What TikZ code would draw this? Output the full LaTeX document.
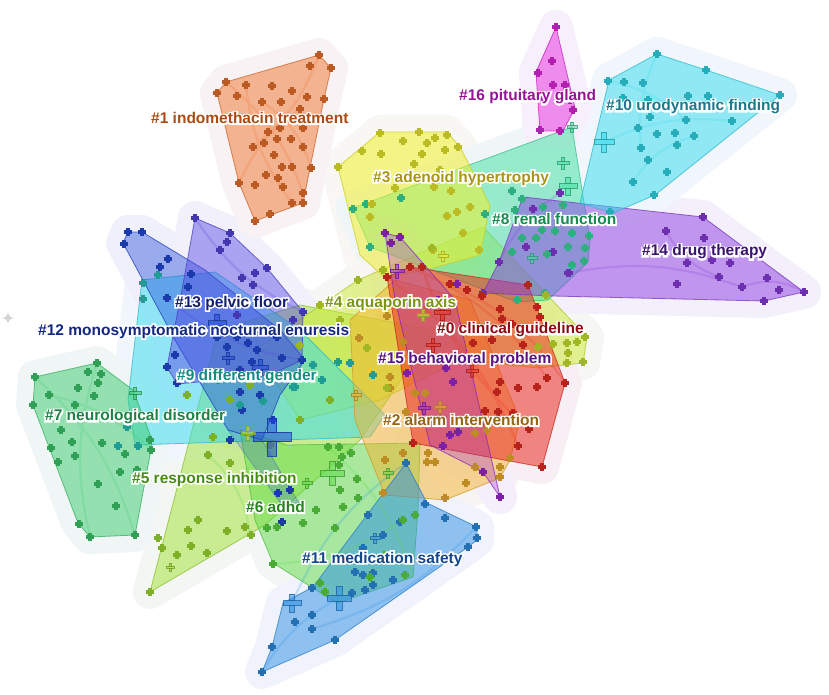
\documentclass[tikz,border=0pt]{standalone}
\usepackage{fontspec}
\newfontfamily\lblfam{Liberation Sans Bold}
\newfontfamily\halofam{Liberation Sans Bold}[FakeBold=20]
\usetikzlibrary{calc}
\definecolor{kRed}{RGB}{235,45,35}
\definecolor{kOrange}{RGB}{240,115,45}
\definecolor{kAmber}{RGB}{245,180,45}
\definecolor{kYellow}{RGB}{240,240,45}
\definecolor{kYG}{RGB}{205,235,45}
\definecolor{kLime}{RGB}{160,225,50}
\definecolor{kGreen}{RGB}{95,220,70}
\definecolor{kGreenB}{RGB}{60,205,110}
\definecolor{kAqua}{RGB}{60,225,160}
\definecolor{kTeal}{RGB}{40,200,190}
\definecolor{kCyan}{RGB}{50,220,238}
\definecolor{kSky}{RGB}{45,145,230}
\definecolor{kBlue}{RGB}{35,75,220}
\definecolor{kIndigo}{RGB}{85,70,225}
\definecolor{kPurple}{RGB}{140,60,225}
\definecolor{kViolet}{RGB}{160,40,210}
\definecolor{kMag}{RGB}{230,40,225}
\definecolor{kHalo}{RGB}{248,247,252}
\definecolor{tOr}{RGB}{170,75,20}
\definecolor{tMag}{RGB}{150,20,150}
\definecolor{tTeal}{RGB}{30,120,140}
\definecolor{tOlive}{RGB}{170,150,20}
\definecolor{tGreenE}{RGB}{20,140,80}
\definecolor{tPurp}{RGB}{60,20,110}
\definecolor{tNavyB}{RGB}{20,30,110}
\definecolor{tOliveG}{RGB}{120,150,20}
\definecolor{tNavy}{RGB}{20,40,130}
\definecolor{tRed}{RGB}{140,10,20}
\definecolor{tViol}{RGB}{90,20,130}
\definecolor{tTealN}{RGB}{20,140,130}
\definecolor{tGreenS}{RGB}{30,130,70}
\definecolor{tAmber}{RGB}{150,100,20}
\definecolor{tLime}{RGB}{70,140,20}
\definecolor{tGreenX}{RGB}{40,130,30}
\definecolor{tBlue}{RGB}{20,70,140}
\tikzset{
  halo/.style={draw=#1!4!kHalo, fill=#1!4!kHalo, line width=34pt, line join=round},
  poly/.style={fill=#1, fill opacity=0.5, draw=#1!85!black, draw opacity=0.75, line width=0.8pt, line join=round},
  mk/.style={only marks, mark=+, mark size=3.6, line width=3.4pt, draw=#1!78!black, mark options={solid, line width=3.4pt, draw=#1!78!black}},
  arcl/.style={draw=#1, draw opacity=0.22, line width=2.2pt},
  hubst/.style={fill=#1, fill opacity=0.55, draw=#1!70!black, draw opacity=0.8, line width=0.6pt},
  lbl/.style={anchor=west, inner sep=0pt, font=\lblfam\fontsize{15.5}{18}\selectfont}
}
\newcommand\clab[4]{%
  \node[lbl,text=#3] (#1) at (#2) {\rlap{\halofam\fontsize{15.5}{18}\selectfont\color{white}#4}#4};
}
\newcommand\hubmark[4]{%
  \begin{scope}[shift={(#2,#3)}, scale=#4]
    \path[hubst=#1] (-1,-0.25) rectangle (1,0.25);
    \path[hubst=#1] (-0.25,-1) rectangle (0.25,-0.25);
    \path[hubst=#1] (-0.25,0.25) rectangle (0.25,1);
  \end{scope}
}
\def\ppA{(217,93)--(226,82)--(319,55)--(331,68)--(324,99)--(310,168)--(303,203)--(255,221)--(239,183)--cycle}
\def\ppP{(556,27)--(575,108)--(563,131)--(540,131)--(536,72)--cycle}
\def\ppJ{(609,80)--(657,54)--(706,70)--(780,95)--(655,195)--(613,213)--(580,203)--cycle}
\def\ppN{(523,197)--(703,217)--(804,292)--(764,301)--(553,296)--(483,293)--(499,262)--cycle}
\def\ppH{(353,208)--(572,127)--(590,240)--(588,262)--(548,300)--(517,302)--(370,247)--cycle}
\def\ppC{(338,167)--(380,132)--(447,132)--(460,147)--(490,205)--(480,255)--(433,268)--(385,278)--(360,255)--cycle}
\def\ppD{(358,280)--(432,248)--(483,227)--(587,337)--(583,363)--(538,368)--(460,360)--(380,400)--(300,420)--(255,350)--cycle}
\def\ppE{(150,592)--(218,330)--(300,305)--(435,330)--(360,440)--(265,525)--cycle}
\def\ppL{(142,280)--(215,272)--(300,330)--(385,415)--(370,437)--(135,445)--(128,400)--cycle}
\def\ppG{(35,377)--(97,363)--(133,390)--(152,440)--(150,455)--(135,535)--(90,537)--(78,523)--(33,405)--cycle}
\def\ppF{(240,430)--(287,445)--(420,443)--(418,510)--(413,577)--(337,603)--(273,563)--(255,520)--cycle}
\def\ppM{(123,243)--(128,232)--(142,232)--(205,270)--(280,330)--(305,360)--(280,395)--(262,440)--(228,430)--(175,340)--cycle}
\def\ppMb{(228,430)--(262,440)--(300,505)--(284,508)--cycle}
\def\ppO{(195,218)--(230,233)--(267,268)--(303,312)--(302,360)--(270,375)--(177,384)--(167,367)--(182,290)--cycle}
\def\ppB{(350,320)--(395,280)--(470,300)--(520,420)--(510,460)--(500,478)--(445,500)--(385,495)--(355,420)--cycle}
\def\ppK{(387,277)--(410,267)--(528,285)--(565,383)--(542,467)--(413,443)--cycle}
\def\ppV{(385,233)--(400,237)--(455,300)--(500,497)--(483,472)--(430,445)--(395,300)--cycle}
\def\ppI{(406,463)--(427,503)--(477,527)--(477,540)--(468,547)--(335,640)--(262,672)--(272,647)--(283,603)--(313,587)--cycle}
\begin{document}
\begin{tikzpicture}[x=1pt,y=-1pt]
\fill[white] (0,0) rectangle (829,695);
\useasboundingbox (0,0) rectangle (829,695);
% halos
\path[halo=kLime] \ppE; \path[halo=kYG] \ppD; \path[halo=kYellow] \ppC;
\path[halo=kAqua] \ppH; \path[halo=kCyan] \ppL; \path[halo=kGreenB] \ppG;
\path[halo=kGreen] \ppF; \path[halo=kBlue] \ppM; \path[halo=kIndigo] \ppO;
\path[halo=kAmber] \ppB; \path[halo=kRed] \ppK; \path[halo=kViolet] \ppV;
\path[halo=kSky] \ppI; \path[halo=kPurple] \ppN; \path[halo=kCyan] \ppJ;
\path[halo=kMag] \ppP; \path[halo=kOrange] \ppA;
% polygons
\path[poly=kLime] \ppE;
\path[poly=kYG] \ppD;
\path[poly=kAqua] \ppH;
\path[poly=kYellow, fill opacity=0.55] \ppC;
\path[poly=kCyan] \ppL;
\path[poly=kGreenB] \ppG;
\path[poly=kGreen] \ppF;
\path[poly=kBlue, fill opacity=0.42] \ppM;
\path[poly=kBlue, fill opacity=0.22, draw opacity=0.3] \ppMb;
\path[poly=kIndigo, fill opacity=0.45] \ppO;
\path[poly=kAmber] \ppB;
\path[poly=kRed, fill opacity=0.55] \ppK;
\path[poly=kViolet, fill opacity=0.3] \ppV;
\path[poly=kSky] \ppI;
\path[poly=kPurple] \ppN;
\path[poly=kCyan] \ppJ;
\path[poly=kMag] \ppP;
\path[poly=kOrange] \ppA;
% faint internal links
\draw[arcl=kOrange] (226,82) to[bend left=15] (303,193) (246,85) to[bend right=15] (292,203) (319,55) to[bend left=15] (253,147) (262,102) to[bend left=20] (311,168) (239,183) to[bend left=15] (300,109);
\draw[arcl=kCyan] (608,81) to[bend left=15] (686,120) (657,54) to[bend right=15] (641,148) (604,142) to[bend left=15] (732,121) (633,182) to[bend left=20] (694,136);
\draw[arcl=kPurple] (568,273) to[bend left=15] (742,287) (666,231) to[bend right=20] (719,277) (742,287) to[bend left=25] (804,292) (499,262) to[bend left=15] (560,193);
\draw[arcl=kRed] (387,277) to[bend left=15] (518,446) (410,267) to[bend left=15] (547,378) (422,267) to[bend right=15] (529,429) (450,284) to[bend left=15] (565,383);
\draw[arcl=kGreenB] (35,377) to[bend left=15] (135,535) (97,363) to[bend right=15] (90,537) (49,395) to[bend left=15] (151,450);
\draw[arcl=kSky] (262,672) to[bend left=15] (339,598) (292,603) to[bend left=15] (406,463) (312,629) to[bend right=15] (476,527);
\draw[arcl=kIndigo] (195,218) to[bend right=15] (303,312) (167,298) to[bend right=15] (302,360);
\draw[arcl=kGreen] (328,447) to[bend left=15] (413,577) (273,564) to[bend right=15] (403,520) (208,455) to[bend left=20] (250,535);
% node markers
\path[mk=kOrange] plot coordinates {(226,82) (246,85) (217,93) (237,96) (272,86) (292,91) (307,97) (319,55) (310,66) (331,68) (324,99) (262,102) (281,102) (300,109) (280,128) (268,132) (303,128) (253,147) (264,143) (277,139) (291,139) (303,147) (274,155) (282,167) (292,167) (311,168) (266,175) (278,178) (255,185) (239,183) (283,187) (303,193) (292,203) (303,203) (270,214) (255,221)};
\path[mk=kMag] plot coordinates {(556,27) (552,61) (538,73) (553,85) (565,85) (573,110) (540,130) (560,131) (570,100) (543,100)};
\path[mk=kCyan] plot coordinates {(608,81) (657,54) (706,70) (780,95) (624,82) (643,83) (623,98) (648,100) (688,96) (708,96) (650,117) (686,120) (732,121) (638,128) (657,134) (675,133) (694,136) (677,145) (641,148) (648,160) (667,172) (633,182) (654,195) (610,212)};
\path[mk=kPurple] plot coordinates {(703,217) (666,231) (704,238) (687,263) (712,260) (730,263) (719,277) (677,284) (742,287) (767,278) (779,290) (804,292) (764,301) (568,273) (560,193) (533,209) (555,231) (526,247) (553,252) (499,262) (483,293) (569,273)};
\path[mk=kAqua] plot coordinates {(353,209) (366,204) (401,198) (370,247) (485,214) (512,191) (522,199) (515,210) (543,207) (563,205) (542,230) (555,231) (572,233) (589,236) (522,238) (536,238) (568,247) (585,248) (512,252) (547,254) (572,265) (584,261) (545,293) (517,300)};
\path[mk=kYellow] plot coordinates {(338,167) (380,133) (419,132) (447,135) (458,147) (362,151) (381,154) (403,141) (427,143) (435,138) (445,150) (422,154) (414,164) (440,170) (395,188) (434,187) (451,191) (372,204) (370,217) (457,212) (447,216) (470,207) (463,233) (433,250) (479,250)};
\path[mk=kRed] plot coordinates {(387,277) (410,267) (422,267) (450,284) (467,290) (482,296) (528,285) (537,307) (540,317) (500,309) (502,319) (512,324) (473,343) (492,340) (523,345) (500,382) (518,388) (537,387) (547,378) (565,383) (497,392) (485,411) (498,412) (513,413) (529,429) (518,446) (542,467) (413,443)};
\path[mk=kViolet] plot coordinates {(385,233) (391,243) (400,237) (457,284) (446,368) (453,382) (450,435) (458,432) (443,446) (483,472) (500,497) (407,373) (438,300)};
\path[mk=kAmber] plot coordinates {(359,338) (387,316) (403,342) (390,377) (390,388) (415,393) (425,393) (406,412) (428,453) (427,462) (475,433) (487,430) (500,467) (475,467) (383,493) (445,498) (466,483) (500,477) (510,458) (435,462) (403,453) (385,460)};
\path[mk=kYG] plot coordinates {(567,343) (577,342) (585,337) (568,353) (583,362) (567,363) (553,344) (538,347) (546,295) (358,280) (367,348) (383,270) (387,388) (432,248) (340,320) (300,345) (320,305)};
\path[mk=kBlue] plot coordinates {(128,232) (142,232) (124,244) (160,267) (168,259) (191,274) (188,287) (167,298) (175,355) (167,367) (177,383) (217,337) (227,347) (237,337) (248,343) (257,350) (252,362) (240,370) (282,358) (302,360) (277,337) (240,392) (260,395) (242,410) (273,420) (230,440) (278,493) (290,490) (300,507) (282,522)};
\path[mk=kIndigo] plot coordinates {(195,218) (230,233) (227,242) (220,250) (267,268) (255,273) (242,278) (253,285) (303,312) (293,320) (237,315)};
\path[mk=kSky] plot coordinates {(406,463) (425,504) (445,518) (476,527) (477,538) (468,547) (368,515) (400,522) (383,535) (363,548) (355,572) (363,575) (373,573) (393,580) (365,590) (373,585) (352,593) (312,588) (312,615) (312,629) (295,622) (272,647) (262,672) (335,640)};
\path[mk=kGreen] plot coordinates {(328,447) (339,447) (351,453) (342,457) (339,465) (357,479) (340,490) (358,498) (343,507) (316,510) (303,523) (335,528) (320,583) (325,592) (405,575) (370,577) (273,564) (403,520) (415,515) (267,528) (277,527) (360,560) (385,555)};
\path[mk=kLime] plot coordinates {(208,455) (230,463) (213,437) (198,520) (227,531) (191,546) (207,553) (177,555) (162,548) (158,538) (150,592) (245,527) (251,535) (188,530) (187,395) (230,400) (250,385) (330,400) (300,420) (270,445)};
\path[mk=kGreenB] plot coordinates {(35,377) (97,363) (88,372) (101,374) (78,388) (98,383) (49,395) (94,396) (75,405) (33,405) (61,430) (72,442) (102,443) (51,448) (75,456) (58,462) (125,454) (150,440) (151,450) (120,472) (137,470) (98,484) (116,506) (79,524) (90,537) (135,535)};
\path[mk=kTeal] plot coordinates {(313,365) (338,362) (350,363) (373,375) (295,387) (322,380) (218,380) (263,401) (293,387) (143,283) (158,275) (143,299) (127,427) (118,446) (138,446) (240,405)};
% hub markers
\hubmark{kBlue}{272}{437}{19}
\hubmark{kCyan}{604}{142}{10}
\hubmark{kAqua}{568}{186}{9}
\hubmark{kAqua}{563}{163}{6}
\hubmark{kAqua}{572}{127}{5}
\hubmark{kAqua}{532}{258}{5}
\hubmark{kGreen}{332}{473}{12}
\hubmark{kGreen}{307}{483}{5}
\hubmark{kGreen}{388}{473}{5}
\hubmark{kYG}{248}{433}{7}
\hubmark{kYG}{423}{315}{6}
\hubmark{kSky}{292}{603}{9}
\hubmark{kSky}{339}{598}{12}
\hubmark{kSky}{375}{538}{5}
\hubmark{kRed}{442}{312}{8}
\hubmark{kRed}{433}{345}{7}
\hubmark{kRed}{472}{371}{6}
\hubmark{kViolet}{397}{271}{7}
\hubmark{kViolet}{424}{408}{6}
\hubmark{kAmber}{440}{407}{6}
\hubmark{kAmber}{356}{395}{5}
\hubmark{kBlue}{217}{323}{9}
\hubmark{kBlue}{260}{367}{8}
\hubmark{kBlue}{228}{358}{6}
\hubmark{kGreenB}{135}{393}{6}
\hubmark{kLime}{170}{567}{4}
\hubmark{kYellow}{443}{256}{5}
% stray marker at left
\draw[gray!55, line width=0.6pt] (8,318) circle (2.5) (3,318) -- (13,318) (8,313) -- (8,323);
% labels
\clab{l1}{151,118}{tOr}{\#1 indomethacin treatment}
\clab{l16}{459,97}{tMag}{\#16 pituitary gland}
\clab{l10}{606,107}{tTeal}{\#10 urodynamic finding}
\clab{l3}{373,178}{tOlive}{\#3 adenoid hypertrophy}
\clab{l8}{492,219}{tGreenE}{\#8 renal function}
\clab{l14}{642,252}{tPurp}{\#14 drug therapy}
\clab{l13}{175,303}{tNavyB}{\#13 pelvic floor}
\clab{l4}{325,303}{tOliveG}{\#4 aquaporin axis}
\clab{l12}{38,331}{tNavy}{\#12 monosymptomatic nocturnal enuresis}
\clab{l0}{437,330}{tRed}{\#0 clinical guideline}
\clab{l15}{378,359}{tViol}{\#15 behavioral problem}
\clab{l9}{177,377}{tTealN}{\#9 different gender}
\clab{l7}{45,417}{tGreenS}{\#7 neurological disorder}
\clab{l2}{383,420}{tAmber}{\#2 alarm intervention}
\clab{l5}{132,479}{tLime}{\#5 response inhibition}
\clab{l6}{246,507}{tGreenX}{\#6 adhd}
\clab{l11}{302,559}{tBlue}{\#11 medication safety}
\end{tikzpicture}
\end{document}
